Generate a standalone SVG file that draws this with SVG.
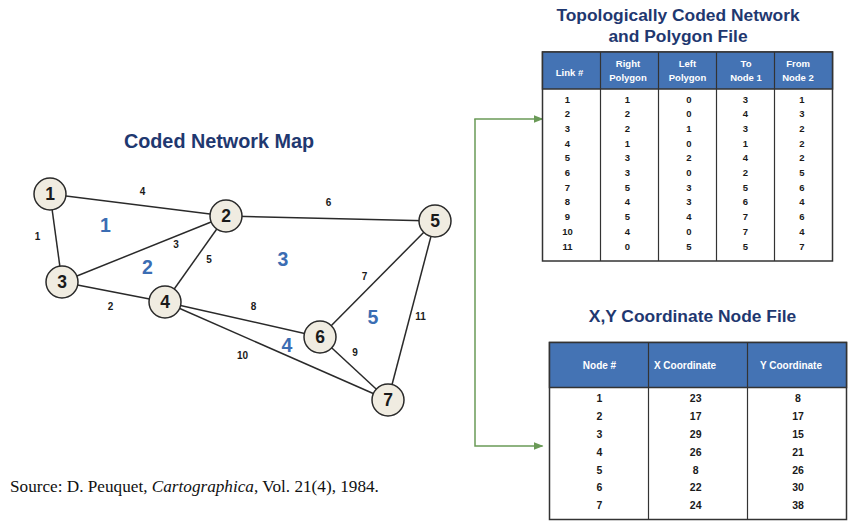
<svg xmlns="http://www.w3.org/2000/svg" width="848" height="522" viewBox="0 0 848 522">
<style>
.title{font-family:"Liberation Sans",Arial,sans-serif;font-weight:bold;fill:#1f3870;text-anchor:middle}
.edge{stroke:#2a2a2a;stroke-width:1.5;fill:none}
.node circle{fill:#f0ece1;stroke:#2a2a2a;stroke-width:1.5}
.node text{font-family:"Liberation Sans",Arial,sans-serif;font-weight:bold;font-size:17.5px;fill:#1a1a1a;text-anchor:middle}
.elabel{font-family:"Liberation Sans",Arial,sans-serif;font-weight:bold;font-size:10px;fill:#1a1a1a;text-anchor:middle}
.plabel{font-family:"Liberation Sans",Arial,sans-serif;font-weight:bold;font-size:19.5px;fill:#3b6db3;text-anchor:middle}
.hdr{fill:#4473b4;stroke:#333;stroke-width:1.5}
.body{fill:#fff;stroke:#333;stroke-width:1.5}
.grid{stroke:#333;stroke-width:1.2}
.ht{font-family:"Liberation Sans",Arial,sans-serif;font-weight:bold;font-size:9.5px;fill:#fff;text-anchor:middle}
.ht2{font-family:"Liberation Sans",Arial,sans-serif;font-weight:bold;font-size:10px;fill:#fff;text-anchor:middle}
.td{font-family:"Liberation Sans",Arial,sans-serif;font-weight:bold;font-size:9.5px;fill:#1a1a1a;text-anchor:middle}
.td2{font-family:"Liberation Sans",Arial,sans-serif;font-weight:bold;font-size:10.5px;fill:#1a1a1a;text-anchor:middle}
.conn{stroke:#6a9a57;stroke-width:1.5;fill:none}
</style>
<defs>
<marker id="arr" markerWidth="10" markerHeight="8" refX="9" refY="4" orient="auto" markerUnits="userSpaceOnUse">
<path d="M0,0 L10,4 L0,8 Z" fill="#6a9a57"/>
</marker>
</defs>

<text class="title" x="219" y="147.5" font-size="19.8">Coded Network Map</text>

<g id="edges">
<line class="edge" x1="50" y1="194" x2="62" y2="282"/>
<line class="edge" x1="62" y1="282" x2="165" y2="302"/>
<line class="edge" x1="62" y1="282" x2="226" y2="216"/>
<line class="edge" x1="50" y1="194" x2="226" y2="216"/>
<line class="edge" x1="226" y1="216" x2="165" y2="302"/>
<line class="edge" x1="226" y1="216" x2="435" y2="221"/>
<line class="edge" x1="435" y1="221" x2="320" y2="337"/>
<line class="edge" x1="165" y1="302" x2="320" y2="337"/>
<line class="edge" x1="320" y1="337" x2="388" y2="400"/>
<line class="edge" x1="165" y1="302" x2="388" y2="400"/>
<line class="edge" x1="435" y1="221" x2="388" y2="400"/>
</g>

<g id="edge-labels">
<text class="elabel" x="37.5" y="240">1</text>
<text class="elabel" x="110.5" y="309.5">2</text>
<text class="elabel" x="176" y="247.5">3</text>
<text class="elabel" x="142.5" y="194.5">4</text>
<text class="elabel" x="209" y="262.5">5</text>
<text class="elabel" x="328.5" y="205.5">6</text>
<text class="elabel" x="364.5" y="279.5">7</text>
<text class="elabel" x="253.5" y="309.5">8</text>
<text class="elabel" x="355" y="355.5">9</text>
<text class="elabel" x="242.5" y="358.5">10</text>
<text class="elabel" x="420.5" y="319.5">11</text>
</g>

<g id="polygon-labels">
<text class="plabel" x="105.5" y="232">1</text>
<text class="plabel" x="147.5" y="273.5">2</text>
<text class="plabel" x="283" y="266">3</text>
<text class="plabel" x="287" y="352">4</text>
<text class="plabel" x="373" y="323.5">5</text>
</g>

<g id="node1" class="node"><circle cx="50" cy="194" r="16"/><text x="50" y="200.2">1</text></g>
<g id="node2" class="node"><circle cx="226" cy="216" r="16"/><text x="226" y="222.2">2</text></g>
<g id="node3" class="node"><circle cx="62" cy="282" r="16"/><text x="62" y="288.2">3</text></g>
<g id="node4" class="node"><circle cx="165" cy="302" r="16"/><text x="165" y="308.2">4</text></g>
<g id="node5" class="node"><circle cx="435" cy="221" r="16"/><text x="435" y="227.2">5</text></g>
<g id="node6" class="node"><circle cx="320" cy="337" r="16"/><text x="320" y="343.2">6</text></g>
<g id="node7" class="node"><circle cx="388" cy="400" r="16"/><text x="388" y="406.2">7</text></g>

<g id="connectors">
<path class="conn" d="M475,119 L475,446 L542.5,446" marker-end="url(#arr)"/>
<line class="conn" x1="474.25" y1="119" x2="542.5" y2="119" marker-end="url(#arr)"/>
</g>

<g id="table-topology">
<text class="title" x="678" y="21" font-size="17.4">Topologically Coded Network</text>
<text class="title" x="678" y="42" font-size="17.4">and Polygon File</text>
<rect class="body" x="542.5" y="52" width="290" height="209"/>
<rect class="hdr" x="542.5" y="52" width="290" height="37"/>
<line class="grid" x1="600.5" y1="52" x2="600.5" y2="261"/>
<line class="grid" x1="658.5" y1="52" x2="658.5" y2="261"/>
<line class="grid" x1="716.5" y1="52" x2="716.5" y2="261"/>
<line class="grid" x1="774.5" y1="52" x2="774.5" y2="261"/>
<text class="ht" x="569.5" y="76">Link #</text>
<text class="ht" x="628" y="67">Right</text>
<text class="ht" x="628" y="81">Polygon</text>
<text class="ht" x="687.5" y="67">Left</text>
<text class="ht" x="687.5" y="81">Polygon</text>
<text class="ht" x="746" y="67">To</text>
<text class="ht" x="746" y="81">Node 1</text>
<text class="ht" x="798" y="67">From</text>
<text class="ht" x="798" y="81">Node 2</text>
<g class="td">
<text x="567.5" y="102.5">1</text><text x="627.5" y="102.5">1</text><text x="689" y="102.5">0</text><text x="745.5" y="102.5">3</text><text x="802" y="102.5">1</text>
<text x="567.5" y="117.2">2</text><text x="627.5" y="117.2">2</text><text x="689" y="117.2">0</text><text x="745.5" y="117.2">4</text><text x="802" y="117.2">3</text>
<text x="567.5" y="131.9">3</text><text x="627.5" y="131.9">2</text><text x="689" y="131.9">1</text><text x="745.5" y="131.9">3</text><text x="802" y="131.9">2</text>
<text x="567.5" y="146.6">4</text><text x="627.5" y="146.6">1</text><text x="689" y="146.6">0</text><text x="745.5" y="146.6">1</text><text x="802" y="146.6">2</text>
<text x="567.5" y="161.3">5</text><text x="627.5" y="161.3">3</text><text x="689" y="161.3">2</text><text x="745.5" y="161.3">4</text><text x="802" y="161.3">2</text>
<text x="567.5" y="176">6</text><text x="627.5" y="176">3</text><text x="689" y="176">0</text><text x="745.5" y="176">2</text><text x="802" y="176">5</text>
<text x="567.5" y="190.7">7</text><text x="627.5" y="190.7">5</text><text x="689" y="190.7">3</text><text x="745.5" y="190.7">5</text><text x="802" y="190.7">6</text>
<text x="567.5" y="205.4">8</text><text x="627.5" y="205.4">4</text><text x="689" y="205.4">3</text><text x="745.5" y="205.4">6</text><text x="802" y="205.4">4</text>
<text x="567.5" y="220.1">9</text><text x="627.5" y="220.1">5</text><text x="689" y="220.1">4</text><text x="745.5" y="220.1">7</text><text x="802" y="220.1">6</text>
<text x="567.5" y="234.8">10</text><text x="627.5" y="234.8">4</text><text x="689" y="234.8">0</text><text x="745.5" y="234.8">7</text><text x="802" y="234.8">4</text>
<text x="567.5" y="249.5">11</text><text x="627.5" y="249.5">0</text><text x="689" y="249.5">5</text><text x="745.5" y="249.5">5</text><text x="802" y="249.5">7</text>
</g>
</g>

<g id="table-coordinates">
<text class="title" x="692.5" y="322" font-size="17.4">X,Y Coordinate Node File</text>
<rect class="body" x="549.5" y="342.5" width="297" height="177"/>
<rect class="hdr" x="549.5" y="342.5" width="297" height="45"/>
<line class="grid" x1="648.5" y1="342.5" x2="648.5" y2="519.5"/>
<line class="grid" x1="747.5" y1="342.5" x2="747.5" y2="519.5"/>
<text class="ht2" x="599.5" y="369">Node #</text>
<text class="ht2" x="685" y="369">X Coordinate</text>
<text class="ht2" x="791" y="369">Y Coordinate</text>
<g class="td2">
<text x="599.5" y="402.4">1</text><text x="695.7" y="402.4">23</text><text x="798" y="402.4">8</text>
<text x="599.5" y="420.2">2</text><text x="695.7" y="420.2">17</text><text x="798" y="420.2">17</text>
<text x="599.5" y="438">3</text><text x="695.7" y="438">29</text><text x="798" y="438">15</text>
<text x="599.5" y="455.8">4</text><text x="695.7" y="455.8">26</text><text x="798" y="455.8">21</text>
<text x="599.5" y="473.6">5</text><text x="695.7" y="473.6">8</text><text x="798" y="473.6">26</text>
<text x="599.5" y="491.4">6</text><text x="695.7" y="491.4">22</text><text x="798" y="491.4">30</text>
<text x="599.5" y="509.2">7</text><text x="695.7" y="509.2">24</text><text x="798" y="509.2">38</text>
</g>
</g>

<text x="10" y="492" font-family="'Liberation Serif','Times New Roman',serif" font-size="17.2" fill="#111">Source: D. Peuquet, <tspan font-style="italic">Cartographica</tspan>, Vol. 21(4), 1984.</text>
</svg>
